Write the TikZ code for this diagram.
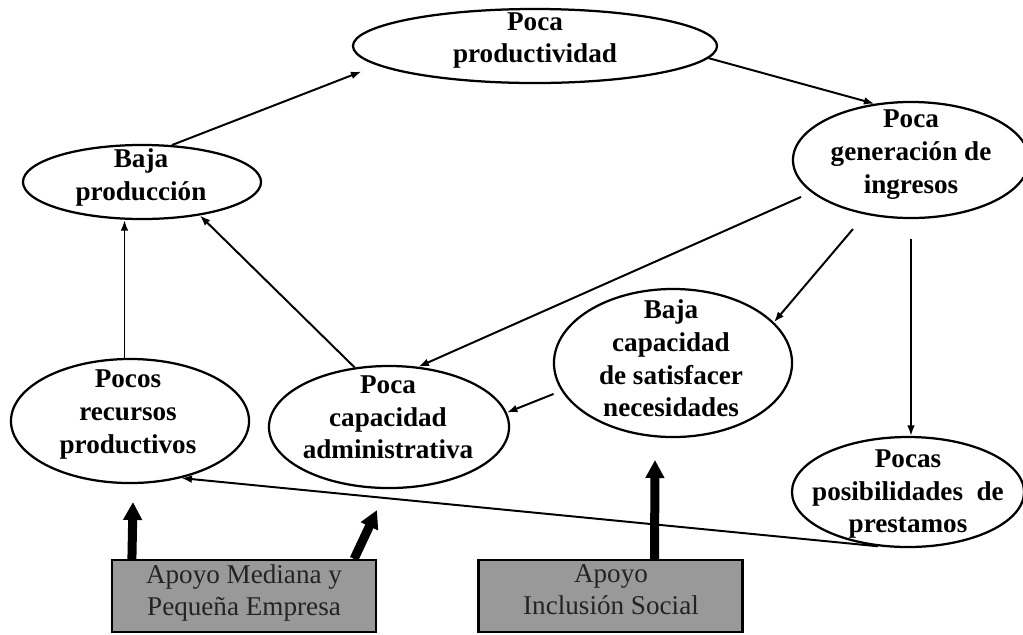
\documentclass[tikz,border=0pt]{standalone}
\usepackage{fontspec}
\setmainfont{Liberation Serif}
\usepackage{tikz}
\usetikzlibrary{positioning}
\usetikzlibrary{arrows.meta}
\usetikzlibrary{shapes.geometric}

\definecolor{boxgray}{RGB}{153,153,153}
\definecolor{boxtext}{RGB}{35,35,35}

\begin{document}
\begin{tikzpicture}[x=0.025cm, y=-0.025cm,
    elli/.style={ellipse, draw, line width=1.6pt, inner sep=0pt},
    lbl/.style={align=center, font=\fontsize{19.3}{23.2}\selectfont\bfseries},
    apoyo/.style={draw, line width=1.5pt, fill=boxgray, minimum width=6.6cm, minimum height=1.8cm, inner sep=0pt},
    apoyotxt/.style={align=center, text=boxtext, font=\fontsize{19.3}{23.2}\selectfont},
    link/.style={-{Latex[length=7.5pt,width=5.5pt]}, line width=1.4pt},
    bigarrow/.style={-{Triangle[length=12.8pt,width=12.8pt]}, line width=6.4pt}]
    \useasboundingbox (0,0) rectangle (1023,634);

    % Draw ellipses
    \node[elli, minimum width=9.1cm, minimum height=1.85cm] (prod) at (535,46) {};
    \node[elli, minimum width=5.95cm, minimum height=1.85cm] (baja) at (142,182) {};
    \node[elli, minimum width=5.9cm, minimum height=2.9cm] (gen) at (911,160) {};
    \node[elli, minimum width=5.95cm, minimum height=3.7cm] (cap) at (673,363) {};
    \node[elli, minimum width=5.95cm, minimum height=3.1cm] (rec) at (130,421) {};
    \node[elli, minimum width=6cm, minimum height=3.05cm] (adm) at (389,427) {};
    \node[elli, minimum width=5.8cm, minimum height=2.75cm] (pos) at (908,492) {};

    % Labels of the ellipses
    \node[lbl] (prodtxt) at (535,40.5) {Poca\\productividad};
    \node[lbl] (bajatxt) at (141,177.5) {Baja\\producción};
    \node[lbl] (gentxt) at (911,154.5) {Poca\\generación de\\ingresos};
    \node[lbl] (captxt) at (671,358.5) {Baja\\capacidad\\de satisfacer\\necesidades};
    \node[lbl] (rectxt) at (128,414.5) {Pocos\\recursos\\productivos};
    \node[lbl] (admtxt) at (388,417.5) {Poca\\capacidad\\administrativa};
    \node[lbl] (postxt) at (908,494) {Pocas\\posibilidades\ \ de\\prestamos};

    % Draw support boxes
    \node[apoyo] (pyme) at (244,596) {};
    \node[apoyotxt] (pymetxt) at (244,593) {Apoyo Mediana y\\Pequeña Empresa};
    \node[apoyo] (inc) at (610.5,596) {};
    \node[apoyotxt] (inctxt) at (611,589.5) {Apoyo\\Inclusión Social};

    % Draw links
    \draw[link, shorten >=12pt] (baja.51) -- (prod.187);
    \draw[link] (prod.356) -- (gen.123);
    \draw[link, shorten <=8pt] (gen.198) -- (adm.64);
    \draw[link, shorten <=13.5pt] (gen.230) -- (cap.22);
    \draw[link, shorten <=14pt] (gen.south) -- (gen.south |- pos.north);
    \draw[link, shorten <=6pt] (cap.194) -- (adm.7);
    \draw[link] (adm.120) -- (baja.330);
    \draw[link] (rec.95) -- (rec.95 |- baja.south);
    \draw[link] (pos.241) -- (rec.312);

    % Draw thick arrows from the boxes
    \coordinate (up1) at (133,502);
    \coordinate (up2) at (377,510);
    \coordinate (up3) at (655,460);
    \draw[bigarrow] ([xshift=0.525cm]pyme.north west) -- (up1);
    \draw[bigarrow] ([xshift=-0.575cm]pyme.north east) -- (up2);
    \draw[bigarrow] ([xshift=1.1cm]inc.north) -- (up3);
\end{tikzpicture}
\end{document}
